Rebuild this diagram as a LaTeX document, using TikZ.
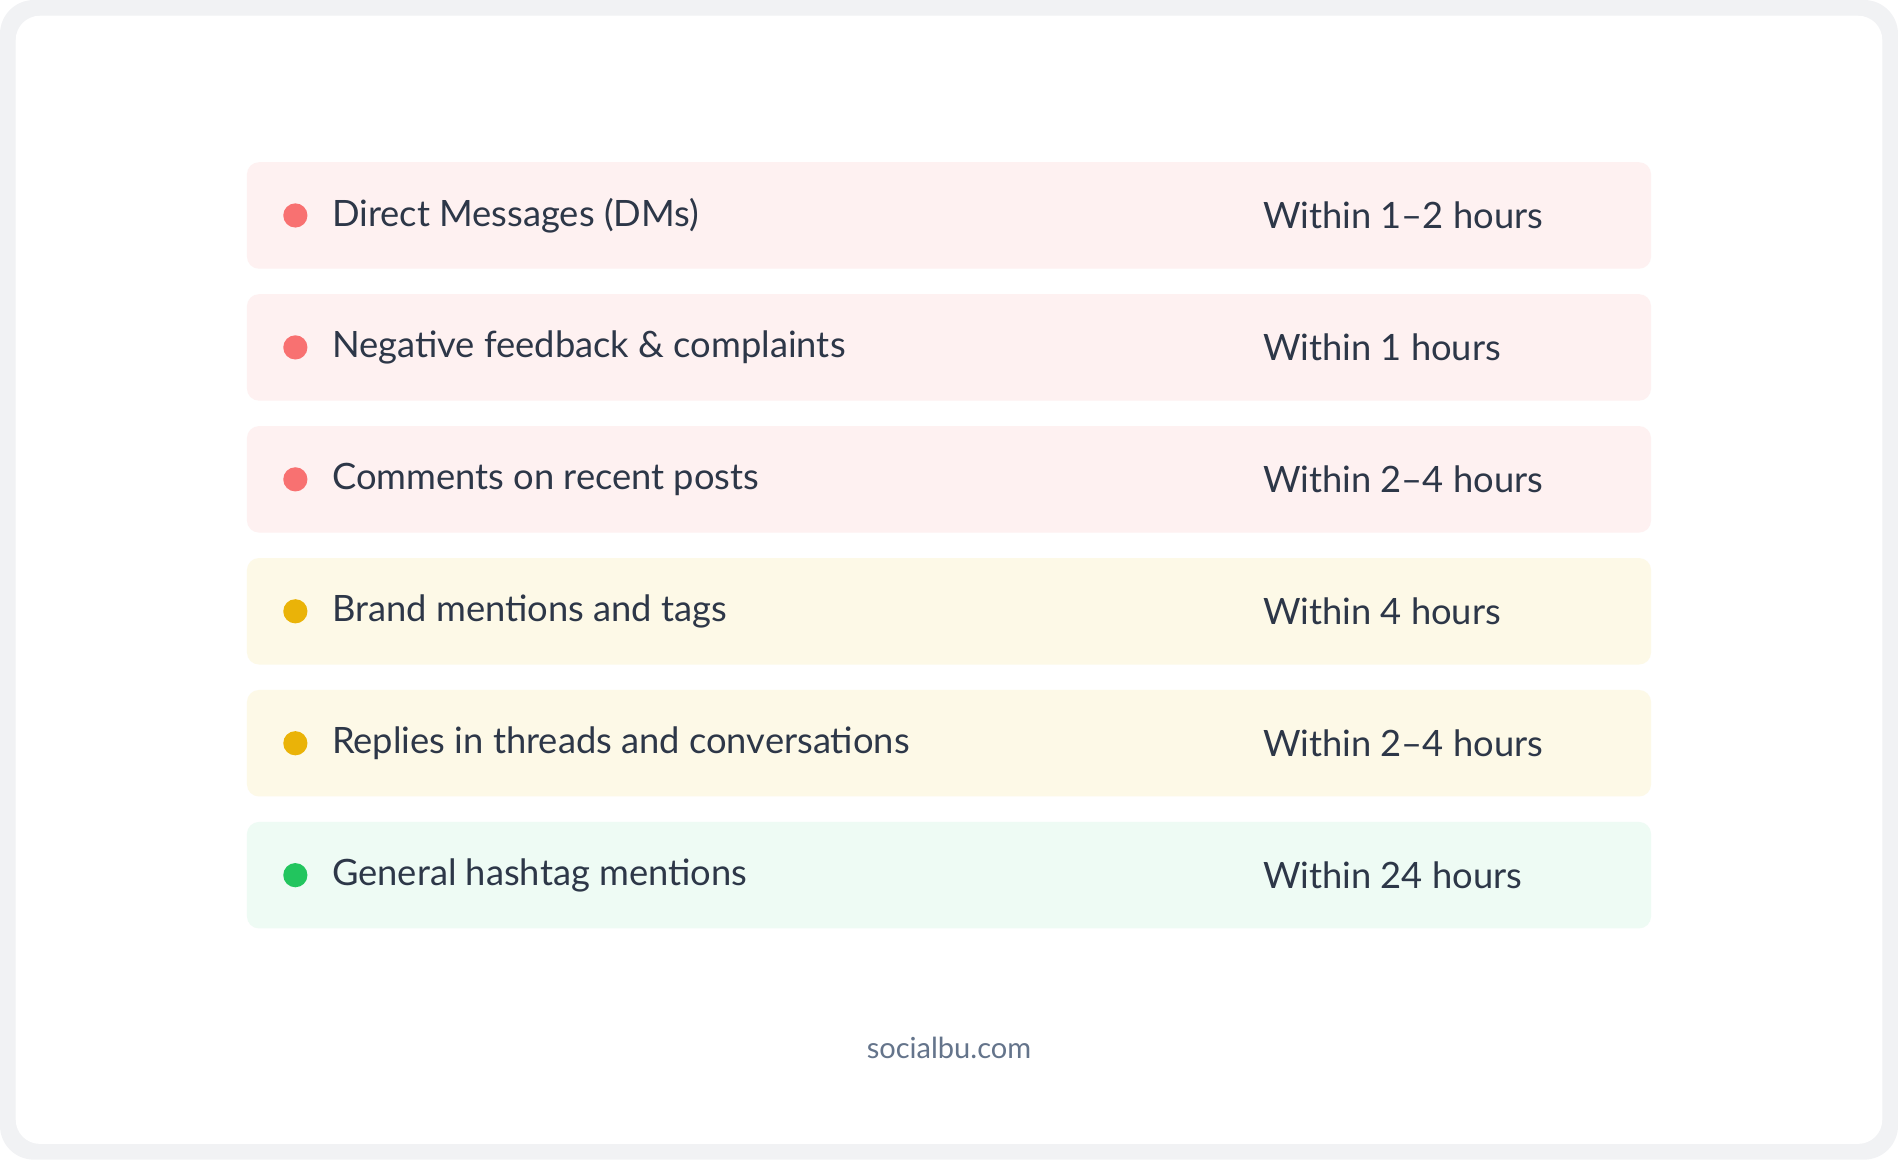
\documentclass[tikz,border=0pt]{standalone}
\usepackage{fontspec}
\setmainfont{Lato}
\definecolor{framegray}{HTML}{F1F2F4}
\definecolor{inktext}{HTML}{2D3748}
\definecolor{footgray}{HTML}{64748B}
\definecolor{redfill}{HTML}{FEF1F1}
\definecolor{reddot}{HTML}{F87171}
\definecolor{yellowfill}{HTML}{FDF9E7}
\definecolor{yellowdot}{HTML}{EAB308}
\definecolor{greenfill}{HTML}{EEFBF4}
\definecolor{greendot}{HTML}{22C55E}
\tikzset{
  rowbox/.style={rounded corners=5pt, draw=none},
  rowtext/.style={anchor=west, inner sep=0pt, text=inktext, font=\fontsize{15}{18}\selectfont},
  footer/.style={text=footgray, font=\fontsize{12}{14}\selectfont}
}
\begin{document}
\begin{tikzpicture}[x=0.5pt, y=-0.5pt]
  \useasboundingbox (0,0) rectangle (1568,958);
  % frame
  \fill[framegray, rounded corners=14pt] (0,0) rectangle (1568,958);
  \fill[white, rounded corners=10pt] (13,13) rectangle (1555,945);
  % rows
  \foreach \i/\fc/\dc/\what/\when in {
      0/redfill/reddot/Direct Messages (DMs)/Within 1–2 hours,
      1/redfill/reddot/Negative feedback \& complaints/Within 1 hours,
      2/redfill/reddot/Comments on recent posts/Within 2–4 hours,
      3/yellowfill/yellowdot/Brand mentions and tags/Within 4 hours,
      4/yellowfill/yellowdot/Replies in threads and conversations/Within 2–4 hours,
      5/greenfill/greendot/General hashtag mentions/Within 24 hours} {
    \fill[\fc, rowbox] (204,134+109*\i) rectangle (1364,222+109*\i);
    \fill[\dc] (244,178+109*\i) circle[radius=10];
    \node[rowtext] (item\i) at (274,178+109*\i) {\what};
    \node[rowtext] (time\i) at (1043,178+109*\i) {\when};
  }
  \node[footer] (site) at (784,866) {socialbu.com};
\end{tikzpicture}
\end{document}
